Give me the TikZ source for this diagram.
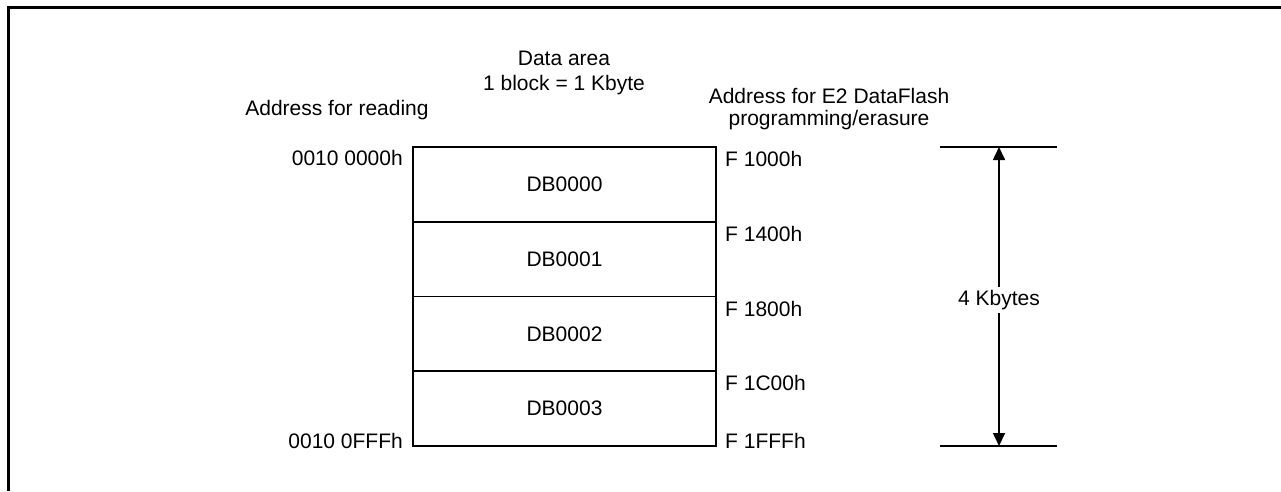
\documentclass[tikz,border=0pt]{standalone}
\usepackage{fontspec}
\setmainfont{Liberation Sans}
\usetikzlibrary{arrows.meta}
\begin{document}
\begin{tikzpicture}[x=1pt,y=-1pt,
  every node/.style={font=\fontsize{21}{25}\selectfont, inner sep=0pt},
  block/.style={draw, line width=1.6pt, minimum width=303pt, minimum height=74.75pt},
  llab/.style={anchor=east},
  rlab/.style={anchor=west},
  frame/.style={line width=3pt},
  dim/.style={line width=1.6pt},
  arr/.style={line width=1.6pt, -{Triangle[width=12pt,length=13pt]}}]
\useasboundingbox (0,0) rectangle (1281,491);
% frame
\coordinate (fb) at (8.5,491);
\coordinate (fc) at (8.5,7);
\coordinate (fr) at (1281,7);
\draw[frame] (fb) -- (fc) -- (fr);
% headers
\node[anchor=base] (h1) at (337,115) {Address for reading};
\node[anchor=base] (h2) at (564,65) {Data area};
\node[anchor=base] (h3) at (564,90.5) {1 block = 1 Kbyte};
\node[anchor=base] (h4) at (829,103) {Address for E2 DataFlash};
\node[anchor=base] (h5) at (829,125) {programming/erasure};
% blocks
\node[block] (b0) at (564.5,184.375) {DB0000};
\node[block] (b1) at (564.5,259.125) {DB0001};
\node[block] (b2) at (564.5,333.875) {DB0002};
\node[block] (b3) at (564.5,408.625) {DB0003};
% left addresses
\node[llab] (a0) at (403,158) {0010 0000h};
\node[llab] (a1) at (403,441) {0010 0FFFh};
% right addresses
\node[rlab] (r0) at (725,159) {F 1000h};
\node[rlab] (r1) at (725,234) {F 1400h};
\node[rlab] (r2) at (725,309) {F 1800h};
\node[rlab] (r3) at (725,383) {F 1C00h};
\node[rlab] (r4) at (725,441) {F 1FFFh};
% dimension
\coordinate (tl) at (940,147);
\coordinate (tr) at (1057,147);
\coordinate (bl) at (940,446);
\coordinate (br) at (1057,446);
\coordinate (tt) at (999,147);
\coordinate (bb) at (999,446);
\draw[dim] (tl) -- (tr);
\draw[dim] (bl) -- (br);
\node[fill=white, inner sep=3pt] (kb) at (999,300) {4 Kbytes};
\draw[arr] (kb) -- (tt);
\draw[arr] (kb) -- (bb);
\end{tikzpicture}
\end{document}
